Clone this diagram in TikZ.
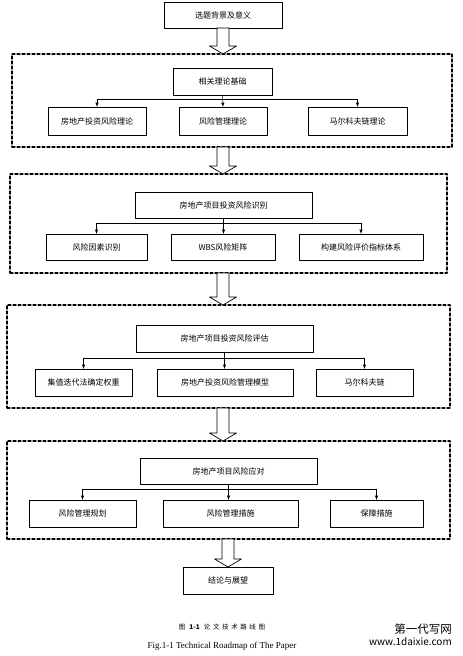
\documentclass[tikz,border=0pt]{standalone}
\usepackage{fontspec}
\setmainfont{Noto Sans CJK SC}
\newfontfamily\capfont[LetterSpace=40]{Noto Sans CJK SC}
\newfontfamily\figfont{Liberation Serif}
\usetikzlibrary{calc}

\tikzset{
  plainbox/.style={draw,line width=0.8pt,inner sep=1pt,outer sep=0pt,
    font=\fontsize{8}{9}\selectfont},
  dashframe/.style={draw,line width=1.3pt,dash pattern=on 3pt off 2pt,
    inner sep=0pt,outer sep=0pt},
  branch/.style={line width=0.5pt,-latex},
  hollow/.style={draw,line width=0.7pt,fill=white}
}

% hollow block arrow, x taken from the start point
\newcommand{\hollowarrow}[2]{%
  \draw[hollow] let \p1=(#1), \p2=(#2) in
    (\x1-6,\y1) -- (\x1+6,\y1) -- (\x1+6,\y2+8) -- (\x1+13.5,\y2+8)
    -- (\x1,\y2) -- (\x1-13.5,\y2+8) -- (\x1-6,\y2+8) -- cycle;}

\begin{document}
\begin{tikzpicture}[x=1pt,y=-1pt,line cap=round,line join=round]
    \useasboundingbox (0,0) rectangle (463,656);

    % Inicio
    \node[plainbox,minimum width=118pt,minimum height=26pt] (bg) at (223,15) {选题背景及意义};

    % Bloque 1: teoria
    \node[dashframe,minimum width=440pt,minimum height=93pt] (frame1) at (232,100.5) {};
    \node[plainbox,minimum width=99pt,minimum height=27pt] (t1) at (222.5,81.5) {相关理论基础};
    \node[plainbox,minimum width=98pt,minimum height=28pt] (c11) at (97,121) {房地产投资风险理论};
    \node[plainbox,minimum width=88pt,minimum height=28pt] (c12) at (223,121) {风险管理理论};
    \node[plainbox,minimum width=99pt,minimum height=28pt] (c13) at (357.5,121) {马尔科夫链理论};
    \coordinate (h1) at (0,99.5);
    \draw[branch] (t1.south) -- (c12.north);
    \draw[line width=0.5pt] (c11.north |- h1) -- (c13.north |- h1);
    \foreach \c in {c11,c13} {\draw[branch] (\c.north |- h1) -- (\c.north);}

    % Bloque 2: identificacion
    \node[dashframe,minimum width=437pt,minimum height=99pt] (frame2) at (228.5,223.5) {};
    \node[plainbox,minimum width=177pt,minimum height=26pt] (t2) at (223.5,205) {房地产项目投资风险识别};
    \node[plainbox,minimum width=101pt,minimum height=26pt] (c21) at (96.5,247) {风险因素识别};
    \node[plainbox,minimum width=104pt,minimum height=26pt] (c22) at (223,247) {WBS风险矩阵};
    \node[plainbox,minimum width=124pt,minimum height=26pt] (c23) at (361,247) {构建风险评价指标体系};
    \coordinate (h2) at (0,223);
    \draw[branch] (t2.south) -- (t2.south |- c22.north);
    \draw[line width=0.5pt] (c21.north |- h2) -- (c23.north |- h2);
    \foreach \c in {c21,c23} {\draw[branch] (\c.north |- h2) -- (\c.north);}

    % Bloque 3: evaluacion
    \node[dashframe,minimum width=443pt,minimum height=103pt] (frame3) at (228.5,356.5) {};
    \node[plainbox,minimum width=177pt,minimum height=27pt] (t3) at (224.5,338.5) {房地产项目投资风险评估};
    \node[plainbox,minimum width=97pt,minimum height=27pt] (c31) at (83.5,382.5) {集值迭代法确定权重};
    \node[plainbox,minimum width=136pt,minimum height=27pt] (c32) at (225,382.5) {房地产投资风险管理模型};
    \node[plainbox,minimum width=97pt,minimum height=27pt] (c33) at (364.5,382.5) {马尔科夫链};
    \coordinate (h3) at (0,358);
    \draw[branch] (t3.south) -- (t3.south |- c32.north);
    \draw[line width=0.5pt] (c31.north |- h3) -- (c33.north |- h3);
    \foreach \c in {c31,c33} {\draw[branch] (\c.north |- h3) -- (\c.north);}

    % Bloque 4: respuesta
    \node[dashframe,minimum width=443pt,minimum height=98pt] (frame4) at (228.5,490) {};
    \node[plainbox,minimum width=177pt,minimum height=26pt] (t4) at (228.5,471) {房地产项目风险应对};
    \node[plainbox,minimum width=107pt,minimum height=27pt] (c41) at (82.5,513.5) {风险管理规划};
    \node[plainbox,minimum width=135pt,minimum height=27pt] (c42) at (230.5,513.5) {风险管理措施};
    \node[plainbox,minimum width=93pt,minimum height=27pt] (c43) at (376.5,513.5) {保障措施};
    \coordinate (h4) at (0,489);
    \draw[branch] (t4.south) -- (t4.south |- c42.north);
    \draw[line width=0.5pt] (c41.north |- h4) -- (c43.north |- h4);
    \foreach \c in {c41,c43} {\draw[branch] (\c.north |- h4) -- (\c.north);}

    % Final
    \node[plainbox,minimum width=90pt,minimum height=27pt] (end) at (228,580.5) {结论与展望};

    % Flechas huecas
    \hollowarrow{bg.south}{frame1.north}
    \hollowarrow{frame1.south -| bg.south}{frame2.north}
    \hollowarrow{frame2.south -| bg.south}{frame3.north}
    \hollowarrow{frame3.south -| bg.south}{frame4.north}
    \hollowarrow{frame4.south -| end.south}{end.north}

    % Titulo de la figura
    \node[inner sep=0pt] (capcn) at (222,627) {\fontsize{6.5}{7}\selectfont\capfont 图 {\normalfont\bfseries 1-1} 论文技术路线图};
    \node[inner sep=0pt] (capen) at (222,646) {\figfont\fontsize{9}{10}\selectfont Fig.1-1 Technical Roadmap of The Paper};
    \node[inner sep=0pt,anchor=east] (wm1) at (452,629) {\fontsize{11.5}{12}\selectfont 第一代写网};
    \node[inner sep=0pt,anchor=east] (wm2) at (452,642) {\fontsize{10}{11}\selectfont www.1daixie.com};
\end{tikzpicture}
\end{document}
